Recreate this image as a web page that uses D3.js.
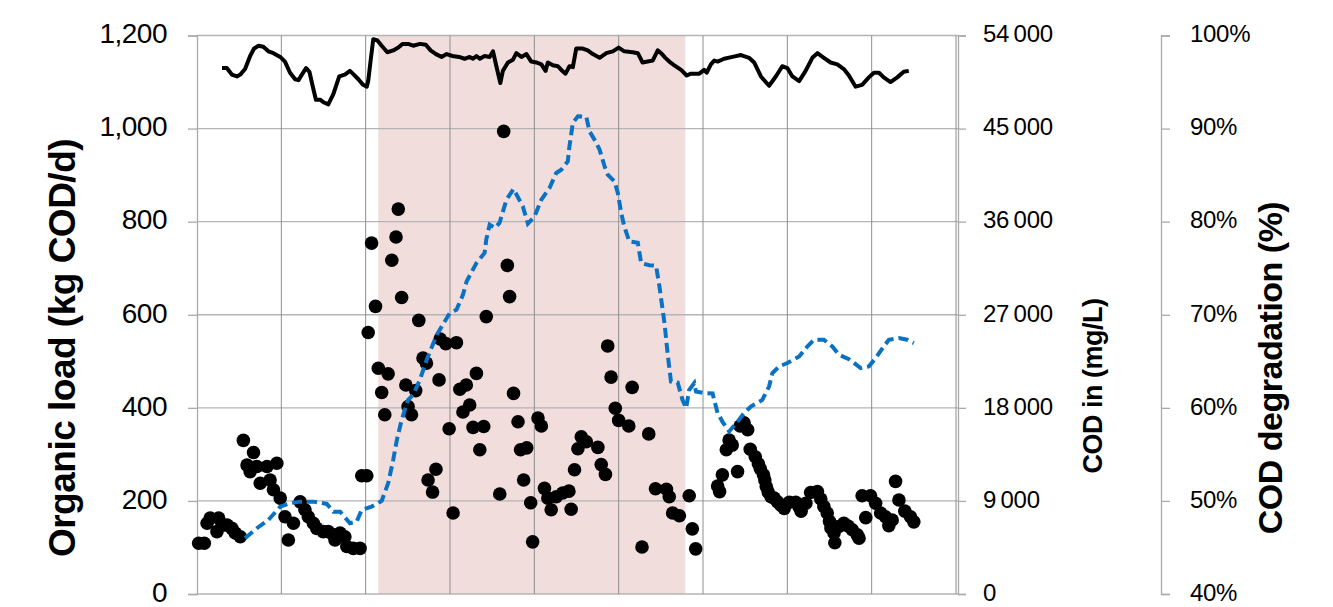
<!DOCTYPE html>
<html>
<head>
<meta charset="utf-8">
<script src="https://cdn.jsdelivr.net/npm/d3@7"></script>
<style>
  body { margin: 0; background: #fff; }
  svg { display: block; font-family: "Liberation Sans", Arial, sans-serif; }
</style>
</head>
<body>
<svg id="chart" width="1333" height="607"></svg>
<script>
// tick values for the three y axes
const loadTicks = [0, 200, 400, 600, 800, 1000, 1200];
const codTicks = [0, 9000, 18000, 27000, 36000, 45000, 54000];
const degTicks = [0.4, 0.5, 0.6, 0.7, 0.8, 0.9, 1.0];
const dayGrid = [0, 30, 60, 90, 120, 150, 180, 210, 240, 270];

// shaded period (days)
const shadedPeriod = [64.5, 173.7];

// organic load, kg COD/d  [day, value]
const organicLoad = [
  [0.6,109],[2.6,109],[3.6,152],[4.7,163],[7.1,134],[7.7,163],[8.9,148],[10.7,148],[12.4,141],[13.6,131],[15.4,123],
  [16.5,330],[17.8,277],[18.9,263],[20.1,304],[21.3,274],[22.5,238],[24.9,274],[26.0,245],[27.2,224],[28.4,281],[29.6,206],
  [31.3,166],[32.5,116],[34.3,152],[36.7,198],[38.4,181],[39.6,166],[41.4,152],[42.6,141],[44.9,134],[46.7,134],[48.5,127],
  [49.1,116],[50.9,131],[52.6,123],[53.3,102],[55.6,98],[58.0,98],
  [58.6,254],[60.4,254],[60.9,562],[62.1,754],[63.5,618],[64.5,485],[65.7,433],[66.8,385],[68.0,473],[69.3,717],[70.8,767],
  [71.6,827],[72.8,637],[74.3,449],[75.1,403],[76.3,385],[77.8,437],[78.9,588],[80.4,507],[81.6,496],[82.2,245],[83.8,219],
  [85.0,268],[86.1,460],[86.5,548],[88.5,538],[89.7,355],[91.1,174],[92.3,540],[93.5,440],[94.6,391],[95.8,449],[97.0,406],
  [98.2,358],[99.4,474],[100.6,310],[102.0,360],[102.9,596],[107.7,215],[109.1,994],[110.4,706],[111.2,639],[112.6,431],
  [114.2,370],[115.1,310],[116.2,245],[117.3,314],[118.7,196],[119.4,112],[121.3,378],[122.5,361],[123.6,227],[124.8,206],
  [126.0,181],[127.8,209],[130.1,217],[132.3,221],[133.1,182],[134.3,267],[135.5,312],[136.7,338],[138.5,327],[142.6,315],
  [143.8,278],[145.3,257],[146.1,533],[147.3,466],[148.8,399],[150.0,373],[153.6,361],[154.8,444],[158.3,101],[160.7,344],
  [163.1,226],[167.0,225],[168.0,209],[169.2,174],[171.6,168],[175.1,211],[176.2,140],[177.4,97],
  [185.2,232],[185.9,220],[186.9,256],[188.3,310],[189.3,331],[190.4,320],[192.3,263],[193.2,361],[194.6,368],[195.9,353],
  [196.8,311],[198.6,295],[199.7,280],[200.4,269],[201.5,256],[202.0,245],[202.5,231],[203.2,219],[204.2,209],[205.3,206],
  [206.5,198],[207.7,191],[208.9,184],[210.7,197],[213.0,197],[214.2,187],[214.9,178],[216.6,195],[218.3,218],[220.7,220],
  [221.9,204],[223.0,188],[224.2,174],[225.0,156],[225.5,142],[226.6,131],[226.9,110],[228.3,145],[230.1,152],[231.6,146],
  [233.1,138],[234.9,127],[235.5,120],[236.6,211],[237.9,164],[239.6,211],[241.4,195],[243.2,174],[244.9,166],[246.1,147],
  [247.3,159],[248.5,242],[249.7,202],[251.8,178],[253.8,166],[255.0,155]
];

// COD in, mg/L  [day, value]
const codIn = [
  [17.1,5390],[21.3,6360],[25.4,7160],[29.6,8450],[33.1,8780],[36.7,8930],[41.4,8930],[46.2,8710],[48.5,7960],[50.9,7960],
  [54.4,6840],[56.8,7000],[58.6,8130],[62.1,8450],[65.7,9000],[68.0,10710],[69.8,12970],[71.1,14900],[72.8,16840],[75.1,18770],
  [76.9,19260],[79.3,20710],[81.7,22640],[85.3,25060],[89.9,27160],[92.3,27480],[94.6,28930],[95.9,30220],[99.4,32000],
  [102.3,32970],[102.9,34260],[104.1,35710],[105.9,35390],[107.6,35870],[110.1,38130],[112.6,39160],[115.9,37480],[117.7,35810],
  [120.1,36510],[122.5,38130],[125.4,39260],[127.8,40710],[129.6,41030],[131.9,41830],[132.5,43290],[133.7,45550],[135.5,46190],
  [138.5,46130],[139.6,44740],[141.4,43930],[143.2,42970],[145.0,41350],[146.1,40550],[148.5,39900],[149.7,38780],[150.9,36840],
  [152.0,35540],[153.8,34090],[156.8,33970],[158.0,32000],[160.9,31790],[163.3,31740],[164.5,29740],[166.3,26200],[167.4,23290],
  [168.6,20540],[171.0,20450],[172.7,18770],[174.0,17970],[175.1,19740],[176.9,20390],[177.5,19580],[180.5,19420],[183.4,19390],
  [185.2,17490],[186.9,16670],[189.3,15710],[192.3,16670],[194.6,17490],[197.0,18130],[201.1,18770],[203.5,20060],[204.7,21360],
  [207.1,22000],[210.0,22330],[214.2,22960],[217.1,23930],[219.5,24580],[223.0,24580],[226.0,23930],[228.4,23130],[231.9,22710],
  [236.1,21840],[239.0,22000],[241.4,22810],[244.3,23930],[246.1,24580],[249.7,24740],[252.6,24580],[255.0,24260]
];

// COD degradation, fraction  [day, value]
const codDegradation = [
  [8.9,.965],[10.6,.965],[12.4,.958],[14.2,.956],[15.4,.958],[17.1,.964],[18.9,.978],[20.3,.986],[21.9,.989],[23.6,.988],
  [25.4,.983],[27.2,.981],[29.6,.977],[31.3,.972],[33.1,.960],[34.9,.953],[36.1,.952],[37.3,.958],[38.8,.965],[40.0,.961],
  [41.2,.945],[42.3,.931],[43.8,.931],[45.2,.928],[46.7,.926],[48.5,.937],[50.6,.956],[52.6,.958],[54.4,.962],[55.8,.958],
  [57.4,.953],[59.1,.947],[60.4,.945],[60.9,.951],[61.8,.974],[62.7,.996],[64.1,.995],[65.7,.989],[67.7,.982],[69.8,.984],
  [71.6,.987],[73.1,.991],[75.1,.991],[76.9,.989],[79.3,.991],[81.4,.990],[83.1,.984],[85.0,.980],[87.0,.977],[88.8,.980],
  [90.9,.978],[93.2,.977],[95.2,.975],[97.0,.977],[98.2,.975],[99.4,.978],[100.6,.975],[102.3,.978],[104.1,.977],[105.3,.983],
  [106.5,.967],[107.9,.949],[108.8,.962],[110.6,.971],[112.4,.974],[113.6,.981],[115.4,.977],[117.2,.980],[118.9,.972],
  [120.7,.971],[122.5,.969],[124.0,.962],[124.8,.971],[126.6,.968],[128.4,.967],[129.6,.963],[131.1,.959],[132.5,.967],
  [133.7,.966],[134.9,.986],[137.2,.986],[139.0,.984],[140.8,.980],[143.2,.976],[145.6,.981],[147.9,.983],[150.0,.987],
  [152.0,.983],[155.0,.982],[156.8,.981],[158.5,.971],[160.3,.972],[162.1,.973],[163.9,.984],[165.1,.981],[166.6,.976],
  [168.0,.972],[169.8,.968],[172.2,.963],[174.2,.957],[175.7,.959],[178.7,.959],[180.4,.963],[181.3,.960],[182.8,.969],
  [184.0,.973],[185.2,.972],[187.5,.975],[190.5,.977],[193.5,.979],[196.4,.976],[198.2,.971],[200.6,.956],[203.5,.946],
  [205.9,.956],[208.2,.967],[210.0,.965],[211.8,.956],[214.2,.951],[216.5,.962],[218.9,.976],[220.7,.981],[223.0,.976],
  [225.4,.971],[227.8,.969],[230.1,.964],[231.9,.957],[234.3,.945],[236.6,.947],[239.0,.955],[240.8,.960],[242.6,.960],
  [244.3,.955],[246.7,.950],[249.1,.955],[251.4,.961],[253.2,.962]
];

const svg = d3.select("#chart");
const plotLeft = 197, plotRight = 956, plotTop = 35.5, plotBottom = 594;

const x = d3.scaleLinear().domain([0, 270]).range([plotLeft, plotRight]);
const yLoad = d3.scaleLinear().domain([0, 1200]).range([plotBottom, plotTop]);
const yCod = d3.scaleLinear().domain([0, 54000]).range([plotBottom, plotTop]);
const yDeg = d3.scaleLinear().domain([0.4, 1]).range([plotBottom, plotTop]);

// shaded period
svg.append("rect")
    .attr("x", x(shadedPeriod[0]))
    .attr("y", plotTop)
    .attr("width", x(shadedPeriod[1]) - x(shadedPeriod[0]))
    .attr("height", plotBottom - plotTop)
    .attr("fill", "#f2dddd");

// gridlines
svg.append("g").selectAll("line")
    .data(loadTicks)
    .enter().append("line")
    .attr("x1", plotLeft).attr("x2", plotRight + 2)
    .attr("y1", d => yLoad(d)).attr("y2", d => yLoad(d))
    .attr("stroke", "#b4b4b4").attr("stroke-width", 1.3);

svg.append("g").selectAll("line")
    .data(dayGrid.slice(1))
    .enter().append("line")
    .attr("x1", d => x(d)).attr("x2", d => x(d))
    .attr("y1", plotTop).attr("y2", plotBottom)
    .attr("stroke", "#8f8f8f").attr("stroke-width", 1);

// axes
function styleAxis(size, spacing) {
    return g => {
        g.select(".domain").attr("stroke", "#aaaaaa").attr("stroke-width", 1.3);
        g.selectAll(".tick line").attr("stroke", "#aaaaaa").attr("stroke-width", 1.3);
        g.selectAll(".tick text")
            .attr("fill", "#000")
            .attr("dy", "0.26em")
            .attr("font-size", size + "px")
            .attr("letter-spacing", spacing + "px");
    };
}

svg.append("g")
    .attr("transform", `translate(${plotLeft},0)`)
    .call(d3.axisLeft(yLoad).tickValues(loadTicks).tickSize(9).tickPadding(21).tickFormat(d3.format(",")))
    .call(styleAxis(28, -0.5));

const spaceLocale = d3.formatLocale({decimal: ".", thousands: "\u2009", grouping: [3], currency: ["", ""]});
svg.append("g")
    .attr("transform", `translate(${plotRight + 2},0)`)
    .call(d3.axisRight(yCod).tickValues(codTicks).tickSize(8).tickPadding(17).tickFormat(spaceLocale.format(",")))
    .call(styleAxis(24, -0.3));

svg.append("g")
    .attr("transform", "translate(1161,0)")
    .call(d3.axisRight(yDeg).tickValues(degTicks).tickSize(9).tickPadding(20).tickFormat(d3.format(".0%")))
    .call(styleAxis(24, -0.3));

// organic load dots
svg.append("g").selectAll("circle")
    .data(organicLoad)
    .enter().append("circle")
    .attr("cx", d => x(d[0]))
    .attr("cy", d => yLoad(d[1]))
    .attr("r", 6.8)
    .attr("fill", "#000");

// COD in (dashed blue)
svg.append("path")
    .datum(codIn)
    .attr("d", d3.line().x(d => x(d[0])).y(d => yCod(d[1])))
    .attr("fill", "none")
    .attr("stroke", "#0a72c4")
    .attr("stroke-width", 4)
    .attr("stroke-dasharray", "10,5");

// COD degradation (solid black)
svg.append("path")
    .datum(codDegradation)
    .attr("d", d3.line().x(d => x(d[0])).y(d => yDeg(d[1])))
    .attr("fill", "none")
    .attr("stroke", "#000")
    .attr("stroke-width", 4)
    .attr("stroke-linejoin", "round");

// axis titles
const titles = [
    {text: "Organic load (kg COD/d)", x: 62, y: 348, size: 37},
    {text: "COD in (mg/L)", x: 1093, y: 386, size: 27},
    {text: "COD degradation (%)", x: 1270, y: 368, size: 34}
];
svg.selectAll(".title")
    .data(titles)
    .enter().append("text")
    .attr("class", "title")
    .attr("transform", d => `translate(${d.x},${d.y}) rotate(-90)`)
    .attr("text-anchor", "middle")
    .attr("dominant-baseline", "central")
    .attr("font-size", d => d.size + "px")
    .attr("font-weight", "bold")
    .attr("letter-spacing", "-0.5px")
    .text(d => d.text);
</script>
</body>
</html>
